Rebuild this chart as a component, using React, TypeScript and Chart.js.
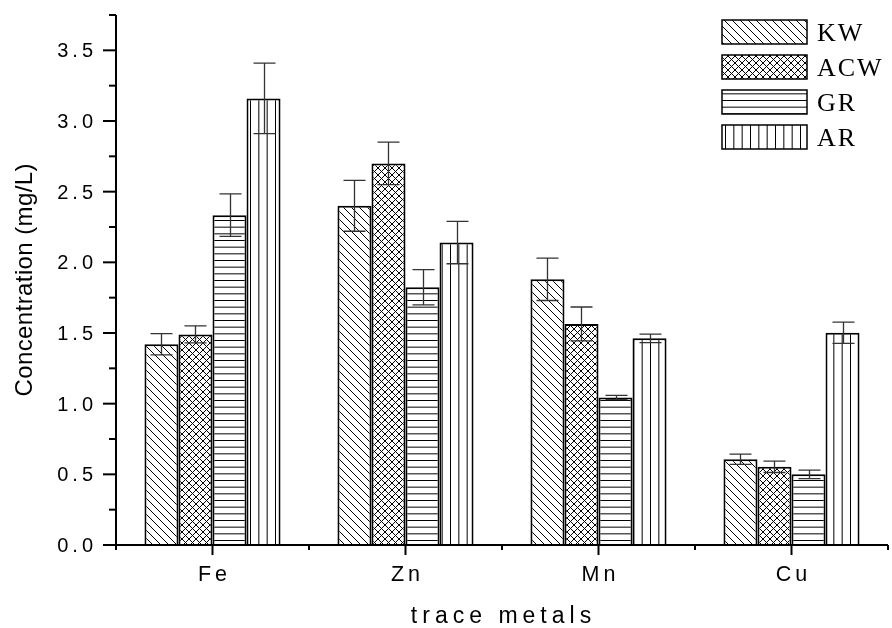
import React, { useEffect, useRef } from "react";
import { Chart, registerables } from "chart.js";

Chart.register(...registerables);

const categories = ["Fe", "Zn", "Mn", "Cu"];
const seriesNames = ["KW", "ACW", "GR", "AR"];
const kwValues = [1.42, 2.4, 1.88, 0.607];
const acwValues = [1.49, 2.7, 1.564, 0.553];
const grValues = [2.334, 1.824, 1.044, 0.5];
const arValues = [3.16, 2.14, 1.462, 1.502];
const kwErrors = [0.075, 0.18, 0.15, 0.036];
const acwErrors = [0.06, 0.15, 0.12, 0.04];
const grErrors = [0.15, 0.125, 0.015, 0.03];
const arErrors = [0.25, 0.15, 0.03, 0.075];
const yTickLabels = ["0.0", "0.5", "1.0", "1.5", "2.0", "2.5", "3.0", "3.5"];
const yTitle = "Concentration (mg/L)";
const xTitle = "trace metals";

function makePattern(kind: string): CanvasPattern | string {
  const c = document.createElement("canvas");
  let w = 8, h = 8;
  if (kind === "h") { w = 20; h = 20; }
  if (kind === "v") { w = 25; h = 25; }
  if (kind === "x") { w = 7; h = 7; }
  c.width = w; c.height = h;
  const g = c.getContext("2d");
  if (!g) return "#fff";
  g.fillStyle = "#fff";
  g.fillRect(0, 0, w, h);
  g.strokeStyle = "#000";
  g.lineWidth = 1;
  const line = (x1: number, y1: number, x2: number, y2: number) => {
    g.beginPath(); g.moveTo(x1, y1); g.lineTo(x2, y2); g.stroke();
  };
  if (kind === "d") {
    line(-1, -1, w + 1, h + 1);
    line(w - 1, -1, w + 1, 1);
    line(-1, h - 1, 1, h + 1);
  } else if (kind === "x") {
    line(-1, -1, w + 1, h + 1);
    line(w - 1, -1, w + 1, 1);
    line(-1, h - 1, 1, h + 1);
    line(w + 1, -1, -1, h + 1);
    line(1, -1, -1, 1);
    line(w + 1, h - 1, w - 1, h + 1);
  } else if (kind === "h") {
    for (let i = 0; i < 3; i++) line(0, i * (h / 3) + 0.5, w, i * (h / 3) + 0.5);
  } else if (kind === "v") {
    for (let i = 0; i < 3; i++) line(i * (w / 3) + 0.5, 0, i * (w / 3) + 0.5, h);
  }
  const ctx = document.createElement("canvas").getContext("2d");
  const p = ctx ? ctx.createPattern(c, "repeat") : null;
  return p || "#fff";
}

function drawSpaced(ctx: CanvasRenderingContext2D, text: string, x: number, y: number, spacing: number, align: "left" | "center" | "right") {
  (ctx as any).letterSpacing = spacing + "px";
  const w = ctx.measureText(text).width - spacing;
  let sx = x;
  if (align === "center") sx = x - w / 2;
  if (align === "right") sx = x - w;
  ctx.textAlign = "left";
  ctx.fillText(text, sx, y);
  (ctx as any).letterSpacing = "0px";
}

export default function App() {
  const ref = useRef<HTMLCanvasElement | null>(null);

  useEffect(() => {
    if (!ref.current) return;
    const patterns = [makePattern("d"), makePattern("x"), makePattern("h"), makePattern("v")];
    const values = [kwValues, acwValues, grValues, arValues];
    const errors = [kwErrors, acwErrors, grErrors, arErrors];

    const customPlugin = {
      id: "custom",
      afterDatasetsDraw(chart: any) {
        const ctx: CanvasRenderingContext2D = chart.ctx;
        const y = chart.scales.y;
        ctx.save();
        ctx.strokeStyle = "#333";
        ctx.lineWidth = 1.3;
        chart.data.datasets.forEach((ds: any, di: number) => {
          const meta = chart.getDatasetMeta(di);
          meta.data.forEach((bar: any, i: number) => {
            const v = values[di][i];
            const e = errors[di][i];
            const x = Math.round(bar.x) + 0.5;
            const yt = y.getPixelForValue(v + e);
            const yb = y.getPixelForValue(v - e);
            ctx.beginPath();
            ctx.moveTo(x, yt); ctx.lineTo(x, yb);
            ctx.moveTo(x - 11, yt); ctx.lineTo(x + 11, yt);
            ctx.moveTo(x - 11, yb); ctx.lineTo(x + 11, yb);
            ctx.stroke();
          });
        });
        ctx.restore();
      },
      afterDraw(chart: any) {
        const ctx: CanvasRenderingContext2D = chart.ctx;
        const xs = chart.scales.x;
        const ys = chart.scales.y;
        const area = chart.chartArea;
        ctx.save();
        ctx.strokeStyle = "#000";
        ctx.fillStyle = "#000";
        ctx.lineWidth = 2;
        // axes
        ctx.beginPath();
        ctx.moveTo(area.left, area.top);
        ctx.lineTo(area.left, area.bottom);
        ctx.moveTo(area.left - 13, area.bottom);
        ctx.lineTo(area.right, area.bottom);
        ctx.stroke();
        // y ticks
        for (let k = 0; k <= 15; k++) {
          const v = k * 0.25;
          const py = ys.getPixelForValue(v);
          const major = k % 2 === 0;
          ctx.beginPath();
          ctx.moveTo(area.left - (major ? 13 : 7), py);
          ctx.lineTo(area.left, py);
          ctx.stroke();
        }
        ctx.font = "20px 'Liberation Sans', Arial, sans-serif";
        ctx.textBaseline = "alphabetic";
        yTickLabels.forEach((lab, k) => {
          const py = ys.getPixelForValue(k * 0.5);
          drawSpaced(ctx, lab, 93, py + 7, 4, "right");
        });
        // x ticks
        const n = categories.length;
        const cw = (area.right - area.left) / n;
        for (let i = 0; i <= n; i++) {
          const px = area.left + i * cw;
          ctx.beginPath();
          ctx.moveTo(px, area.bottom);
          ctx.lineTo(px, area.bottom + 5);
          ctx.stroke();
        }
        ctx.font = "21.5px 'Liberation Sans', Arial, sans-serif";
        categories.forEach((c, i) => {
          const px = xs.getPixelForValue(i);
          ctx.beginPath();
          ctx.moveTo(px, area.bottom);
          ctx.lineTo(px, area.bottom + 10);
          ctx.stroke();
          drawSpaced(ctx, c, px, 581, 4, "center");
        });
        // titles
        ctx.font = "23px 'Liberation Sans', Arial, sans-serif";
        drawSpaced(ctx, xTitle, 501, 623, 5, "center");
        ctx.save();
        ctx.translate(32, (area.top + area.bottom) / 2);
        ctx.rotate(-Math.PI / 2);
        ctx.font = "24px 'Liberation Sans', Arial, sans-serif";
        drawSpaced(ctx, yTitle, 0, 0, 0.4, "center");
        ctx.restore();
        // legend
        ctx.font = "26px 'Liberation Serif', 'Times New Roman', serif";
        seriesNames.forEach((name, i) => {
          const bx = 722, by = 20 + i * 35;
          ctx.fillStyle = patterns[i] as any;
          ctx.fillRect(bx, by, 85, 24);
          ctx.lineWidth = 1.5;
          ctx.strokeStyle = "#000";
          ctx.strokeRect(bx, by, 85, 24);
          ctx.fillStyle = "#000";
          drawSpaced(ctx, name, 817, by + 21, 2, "left");
        });
        ctx.restore();
      },
    };

    const chart = new Chart(ref.current, {
      type: "bar",
      data: {
        labels: categories,
        datasets: seriesNames.map((name, i) => ({
          label: name,
          data: values[i],
          backgroundColor: patterns[i] as any,
          borderColor: "#000",
          borderWidth: 2,
          barPercentage: 1,
          categoryPercentage: 0.705,
        })),
      },
      options: {
        responsive: false,
        animation: false,
        layout: { padding: { top: 15, right: 4, left: 0, bottom: 0 } },
        plugins: { legend: { display: false }, tooltip: { enabled: false } },
        scales: {
          x: {
            grid: { display: false },
            border: { display: false },
            ticks: { display: false },
            afterFit: (s: any) => { s.height = 83; },
          },
          y: {
            min: 0,
            max: 3.75,
            grid: { display: false },
            border: { display: false },
            ticks: { display: false, stepSize: 0.25 },
            afterFit: (s: any) => { s.width = 116; },
          },
        },
      },
      plugins: [customPlugin],
    });
    return () => chart.destroy();
  }, []);

  return (
    <div style={{ position: "fixed", left: 0, top: 0, width: 892, height: 628, background: "#fff" }}>
      <canvas ref={ref} width={892} height={628} style={{ display: "block" }} />
    </div>
  );
}
